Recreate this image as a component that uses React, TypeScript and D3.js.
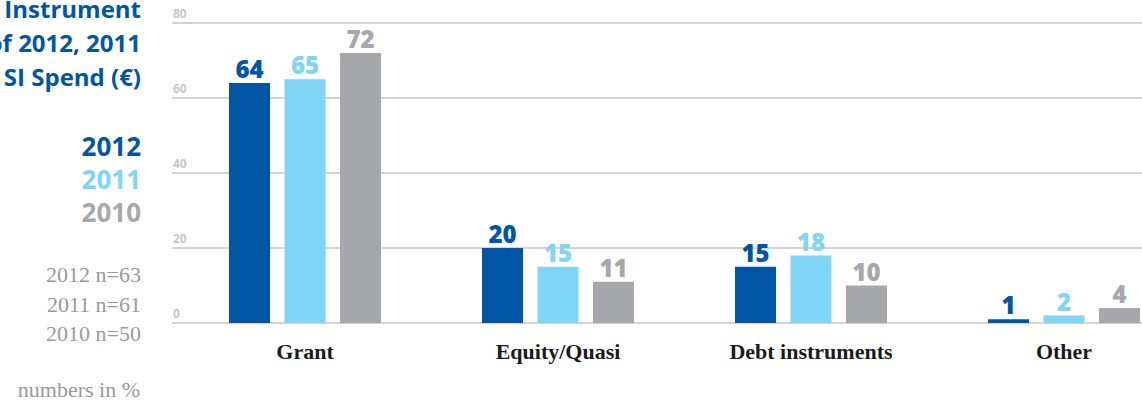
import React, { useEffect, useRef } from "react";
import * as d3 from "d3";

const categories = ["Grant", "Equity/Quasi", "Debt instruments", "Other"];
const years = ["2012", "2011", "2010"];
const values2012 = [64, 20, 15, 1];
const values2011 = [65, 15, 18, 2];
const values2010 = [72, 11, 10, 4];
const yTicks = [0, 20, 40, 60, 80];
const sampleSizes = ["2012 n=63", "2011 n=61", "2010 n=50"];
const titleLines = ["Financial Instrument", "as % of 2012, 2011", "and 2010 SI Spend (€)"];

const colors = ["#0055a5", "#80d4f6", "#a7a8ac"];

const App: React.FC = () => {
  const svgRef = useRef<SVGSVGElement>(null);

  useEffect(() => {
    if (!svgRef.current) return;
    const width = 1142;
    const height = 408;
    const svg = d3.select(svgRef.current).attr("width", width).attr("height", height);
    svg.selectAll("*").remove();

    const series = [values2012, values2011, values2010];

    const y = d3.scaleLinear().domain([0, 80]).range([323, 23]);
    const x0 = d3.scaleBand().domain(categories).range([178.5, 1190.5]).padding(0);
    const x1 = d3
      .scaleBand()
      .domain(years)
      .range([0, x0.bandwidth()])
      .paddingInner(0.261)
      .paddingOuter(0.91);

    // grid
    const grid = svg.append("g");
    grid
      .selectAll("line")
      .data(yTicks)
      .enter()
      .append("line")
      .attr("x1", 172)
      .attr("x2", width)
      .attr("y1", (d) => y(d))
      .attr("y2", (d) => y(d))
      .attr("stroke", "#d3d3d3")
      .attr("stroke-width", 2);

    grid
      .selectAll("text")
      .data(yTicks)
      .enter()
      .append("text")
      .attr("x", 173)
      .attr("y", (d) => y(d) - 5)
      .style("font-family", "'Open Sans', sans-serif")
      .style("font-weight", "bold")
      .style("font-size", "12px")
      .style("fill", "#c6c6c6")
      .text((d) => d);

    // bars
    const groups = svg
      .selectAll(".grp")
      .data(categories)
      .enter()
      .append("g")
      .attr("class", "grp")
      .attr("transform", (d) => `translate(${x0(d)},0)`);

    years.forEach((yr, si) => {
      groups
        .append("rect")
        .attr("x", x1(yr) || 0)
        .attr("width", x1.bandwidth())
        .attr("y", (_d, i) => y(series[si][i]))
        .attr("height", (_d, i) => y(0) - y(series[si][i]))
        .attr("fill", colors[si]);

      groups
        .append("text")
        .attr("x", (x1(yr) || 0) + x1.bandwidth() / 2)
        .attr("y", (_d, i) => y(series[si][i]) - 5)
        .attr("text-anchor", "middle")
        .style("font-family", "'Open Sans', sans-serif")
        .style("font-weight", "800")
        .style("font-size", "24px")
        .style("fill", colors[si])
        .text((_d, i) => series[si][i]);
    });

    groups
      .append("text")
      .attr("x", x0.bandwidth() / 2)
      .attr("y", 359)
      .attr("text-anchor", "middle")
      .style("font-family", "'Liberation Serif', serif")
      .style("font-weight", "bold")
      .style("font-size", "22px")
      .style("fill", "#1a1a1a")
      .text((d) => d);

    // left side title + legend
    const side = svg.append("g").attr("text-anchor", "end");
    side
      .selectAll(".title")
      .data(titleLines)
      .enter()
      .append("text")
      .attr("class", "title")
      .attr("x", 141)
      .attr("y", (_d, i) => 18 + i * 34)
      .style("font-family", "'Open Sans', sans-serif")
      .style("font-weight", "bold")
      .style("font-size", "24px")
      .style("fill", "#0055a5")
      .text((d) => d);

    side
      .selectAll(".legend")
      .data(years)
      .enter()
      .append("text")
      .attr("class", "legend")
      .attr("x", 141)
      .attr("y", (_d, i) => 156 + i * 33)
      .style("font-family", "'Open Sans', sans-serif")
      .style("font-weight", "bold")
      .style("font-size", "26px")
      .style("fill", (_d, i) => colors[i])
      .text((d) => d);

    side
      .selectAll(".nn")
      .data(sampleSizes)
      .enter()
      .append("text")
      .attr("class", "nn")
      .attr("x", 141)
      .attr("y", (_d, i) => 282 + i * 29.5)
      .style("font-family", "'Liberation Serif', serif")
      .style("font-size", "22px")
      .style("fill", "#999999")
      .text((d) => d);

    side
      .append("text")
      .attr("x", 140)
      .attr("y", 397)
      .style("font-family", "'Liberation Serif', serif")
      .style("font-size", "22px")
      .style("fill", "#999999")
      .text("numbers in %");
  }, []);

  return (
    <svg
      ref={svgRef}
      style={{ position: "fixed", left: 0, top: 0, background: "#fff" }}
    />
  );
};

export default App;
